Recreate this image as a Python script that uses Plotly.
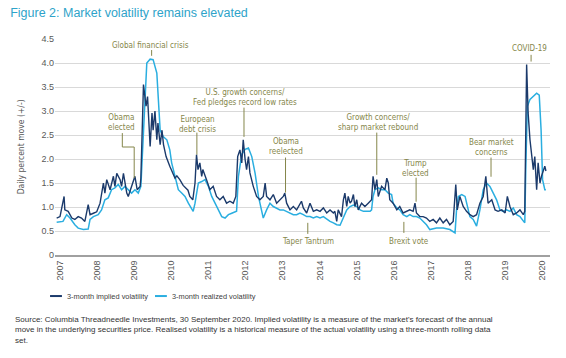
import plotly.graph_objects as go

# ---------------- data (x = position on the year axis as drawn) ----------------
implied_x = [2006.91, 2007.00, 2007.11, 2007.13, 2007.22, 2007.32, 2007.40, 2007.49, 2007.58, 2007.67,
             2007.76, 2007.81, 2007.90, 2007.99, 2008.08, 2008.17, 2008.21, 2008.26, 2008.35, 2008.44,
             2008.48, 2008.53, 2008.62, 2008.66, 2008.71, 2008.80, 2008.84, 2008.93, 2009.02, 2009.08,
             2009.16, 2009.18, 2009.21, 2009.25, 2009.32, 2009.36, 2009.43, 2009.48, 2009.51, 2009.56,
             2009.61, 2009.64, 2009.70, 2009.75, 2009.79, 2009.86, 2009.96, 2010.05, 2010.10, 2010.15,
             2010.23, 2010.32, 2010.40, 2010.45, 2010.50, 2010.58, 2010.64, 2010.68, 2010.72, 2010.77,
             2010.82, 2010.85, 2010.95, 2011.04, 2011.13, 2011.22, 2011.31, 2011.40, 2011.49, 2011.58,
             2011.67, 2011.74, 2011.79, 2011.85, 2011.90, 2011.94, 2011.99, 2012.03, 2012.08, 2012.12,
             2012.21, 2012.30, 2012.39, 2012.48, 2012.53, 2012.57, 2012.66, 2012.75, 2012.84, 2012.93,
             2013.02, 2013.06, 2013.11, 2013.20, 2013.29, 2013.38, 2013.47, 2013.51, 2013.56, 2013.65,
             2013.74, 2013.83, 2013.92, 2014.01, 2014.10, 2014.19, 2014.28, 2014.37, 2014.41, 2014.46,
             2014.50, 2014.59, 2014.64, 2014.68, 2014.73, 2014.77, 2014.82, 2014.86, 2014.91, 2014.95,
             2015.00, 2015.04, 2015.13, 2015.22, 2015.31, 2015.40, 2015.44, 2015.49, 2015.54, 2015.58,
             2015.67, 2015.76, 2015.81, 2015.85, 2015.89, 2015.98, 2016.08, 2016.16, 2016.25, 2016.35,
             2016.43, 2016.52, 2016.57, 2016.61, 2016.70, 2016.79, 2016.88, 2016.97, 2017.06, 2017.15,
             2017.24, 2017.33, 2017.42, 2017.51, 2017.60, 2017.67, 2017.71, 2017.78, 2017.87, 2017.96,
             2018.05, 2018.14, 2018.23, 2018.32, 2018.41, 2018.48, 2018.54, 2018.64, 2018.73, 2018.81,
             2018.91, 2019.00, 2019.06, 2019.13, 2019.22, 2019.31, 2019.40, 2019.49, 2019.53, 2019.58,
             2019.62, 2019.67, 2019.71, 2019.76, 2019.80, 2019.85, 2019.89, 2019.94, 2019.98, 2020.03,
             2020.07, 2020.10]
implied_vol = [0.77, 0.80, 1.22, 0.94, 0.91, 0.77, 0.74, 0.80, 0.77, 0.70,
               1.05, 0.84, 0.87, 0.90, 1.08, 1.50, 1.29, 1.57, 1.36, 1.64,
               1.43, 1.70, 1.57, 1.43, 1.70, 1.29, 1.22, 1.43, 1.64, 1.36,
               1.43, 1.60, 2.40, 3.55, 3.10, 3.30, 2.26, 2.96, 2.60, 3.00,
               2.40, 2.75, 2.30, 2.60, 2.30, 2.05, 1.85, 1.70, 1.60, 1.65,
               1.57, 1.45, 1.40, 1.35, 1.22, 1.15, 1.50, 2.09, 1.78, 1.92,
               1.64, 1.78, 1.57, 1.36, 1.43, 1.22, 1.15, 1.22, 1.08, 1.12,
               1.08, 1.22, 2.05, 2.19, 1.92, 2.40, 1.99, 1.78, 2.05, 1.71,
               1.43, 1.22, 1.15, 1.22, 1.50, 1.22, 1.15, 1.26, 1.08, 1.15,
               1.22, 1.29, 1.08, 0.94, 1.01, 0.94, 1.08, 1.12, 0.98, 0.875,
               1.08, 0.91, 0.94, 0.91, 0.98, 0.875, 0.94, 0.875, 0.91, 0.70,
               0.94, 0.80, 1.15, 1.29, 1.01, 1.22, 1.08, 1.12, 1.26, 1.01,
               1.15, 0.94, 1.08, 1.01, 1.08, 1.15, 1.64, 1.36, 1.57, 1.22,
               1.43, 1.36, 1.60, 1.50, 1.15, 1.08, 0.94, 1.01, 0.875, 0.91,
               0.94, 0.91, 1.08, 0.875, 0.80, 0.80, 0.77, 0.70, 0.74, 0.67,
               0.77, 0.67, 0.74, 0.63, 0.70, 1.47, 0.94, 1.22, 1.01, 0.91,
               0.84, 0.80, 0.84, 1.08, 1.22, 1.64, 1.08, 1.15, 0.94, 0.91,
               0.94, 0.875, 1.22, 1.01, 0.84, 0.875, 0.94, 0.84, 0.91, 3.97,
               2.96, 2.40, 2.12, 1.78, 2.05, 1.36, 1.92, 1.50, 1.64, 1.78,
               1.85, 1.75]

realized_x = [2006.91, 2007.08, 2007.18, 2007.27, 2007.40, 2007.49, 2007.63, 2007.76, 2007.81, 2007.90,
              2008.03, 2008.12, 2008.21, 2008.30, 2008.39, 2008.48, 2008.57, 2008.66, 2008.75, 2008.84,
              2008.93, 2009.02, 2009.11, 2009.18, 2009.25, 2009.34, 2009.43, 2009.51, 2009.61, 2009.65,
              2009.70, 2009.78, 2009.88, 2009.96, 2010.01, 2010.10, 2010.19, 2010.28, 2010.37, 2010.46,
              2010.55, 2010.59, 2010.64, 2010.73, 2010.82, 2010.91, 2011.00, 2011.09, 2011.18, 2011.27,
              2011.36, 2011.45, 2011.54, 2011.63, 2011.72, 2011.76, 2011.81, 2011.90, 2011.99, 2012.08,
              2012.17, 2012.26, 2012.35, 2012.44, 2012.48, 2012.57, 2012.66, 2012.75, 2012.84, 2012.93,
              2013.02, 2013.11, 2013.20, 2013.29, 2013.38, 2013.47, 2013.56, 2013.65, 2013.74, 2013.83,
              2013.92, 2014.01, 2014.10, 2014.19, 2014.28, 2014.37, 2014.46, 2014.55, 2014.64, 2014.73,
              2014.82, 2014.91, 2015.00, 2015.09, 2015.18, 2015.27, 2015.36, 2015.40, 2015.44, 2015.49,
              2015.58, 2015.67, 2015.76, 2015.85, 2015.94, 2015.98, 2016.08, 2016.16, 2016.25, 2016.35,
              2016.43, 2016.52, 2016.61, 2016.70, 2016.79, 2016.88, 2016.97, 2017.15, 2017.33, 2017.51,
              2017.65, 2017.69, 2017.74, 2017.83, 2017.92, 2018.05, 2018.14, 2018.23, 2018.32, 2018.41,
              2018.50, 2018.59, 2018.68, 2018.77, 2018.86, 2018.95, 2019.04, 2019.13, 2019.22, 2019.31,
              2019.40, 2019.53, 2019.56, 2019.60, 2019.67, 2019.76, 2019.85, 2019.92, 2019.97, 2020.01,
              2020.07, 2020.10]
realized_vol = [0.68, 0.70, 0.84, 0.77, 0.63, 0.56, 0.53, 0.54, 0.74, 0.80,
                0.84, 0.94, 1.15, 1.19, 1.36, 1.40, 1.47, 1.36, 1.43, 1.36,
                1.29, 1.36, 1.29, 1.43, 2.60, 4.00, 4.08, 4.07, 3.79, 3.30,
                2.60, 2.47, 2.40, 2.19, 1.92, 1.64, 1.36, 1.29, 1.22, 1.08,
                0.94, 0.91, 1.08, 1.50, 1.53, 1.57, 1.43, 1.22, 1.08, 0.94,
                0.80, 0.77, 0.84, 0.87, 0.91, 0.91, 1.64, 2.10, 2.20, 2.23,
                2.05, 1.70, 1.22, 0.875, 0.77, 0.94, 1.08, 1.01, 0.98, 0.94,
                0.94, 0.91, 0.875, 0.84, 0.84, 0.875, 0.84, 0.80, 0.80, 0.77,
                0.80, 0.77, 0.80, 0.74, 0.70, 0.67, 0.63, 0.62, 0.80, 0.94,
                1.01, 1.04, 1.01, 0.94, 0.91, 0.91, 0.91, 0.94, 1.22, 1.36,
                1.40, 1.36, 1.36, 1.29, 1.26, 1.08, 0.98, 0.94, 0.84, 0.80,
                0.84, 0.80, 0.80, 0.77, 0.70, 0.63, 0.53, 0.56, 0.56, 0.53,
                0.46, 0.94, 1.22, 1.26, 1.22, 0.80, 0.74, 0.60, 0.94, 1.36,
                1.50, 1.43, 1.29, 1.15, 0.94, 0.91, 0.94, 0.91, 0.98, 0.84,
                0.80, 0.67, 1.90, 3.10, 3.24, 3.30, 3.37, 3.33, 2.60, 1.57,
                1.36, 1.36]

series_names = ["3-month implied volatility", "3-month realized volatility"]

year_ticks = [2007, 2008, 2009, 2010, 2011, 2012, 2013, 2014, 2015, 2016, 2017, 2018, 2019, 2020]
year_labels = [str(y) for y in year_ticks]
y_ticks = [0, 0.5, 1.0, 1.5, 2.0, 2.5, 3.0, 3.5, 4.0, 4.5]
y_labels = ["0", "0.5", "1.0", "1.5", "2.0", "2.5", "3.0", "3.5", "4.0", "4.5"]

# events: label, text x, text y, leader x, leader y from, leader y to
events = [
    ("Global financial crisis", 2009.45, 4.36, 2009.47, 4.27, 4.15),
    ("European<br>debt crisis", 2010.71, 2.72, 2010.69, 2.55, 2.09),
    ("U.S. growth concerns/<br>Fed pledges record low rates", 2011.99, 3.29, 2011.96, 3.07, 2.46),
    ("Obama<br>reelected", 2013.09, 2.27, 2013.08, 2.03, 1.30),
    ("Taper Tantrum", 2013.68, 0.29, 2013.68, 0.67, 0.44),
    ("Growth concerns/<br>sharp market rebound", 2015.56, 2.77, 2015.54, 2.55, 1.67),
    ("Trump<br>elected", 2016.58, 1.81, 2016.60, 1.61, 1.11),
    ("Brexit vote", 2016.42, 0.29, 2016.27, 0.69, 0.46),
    ("Bear market<br>concerns", 2018.62, 2.25, 2018.62, 2.03, 1.63),
    ("COVID-19", 2019.67, 4.31, 2019.70, 4.17, 4.03),
]
obama_label = ("Obama<br>elected", 2008.67, 2.77)
obama_path_x = [2008.68, 2008.68, 2009.00, 2009.00]
obama_path_y = [2.54, 2.25, 2.25, 1.60]

DARK = "#1b3a6b"
LIGHT = "#2aaee0"
OLIVE = "#85864a"
ANN_FONT = "DejaVu Sans Condensed, Liberation Sans Narrow, Liberation Sans, sans-serif"
BASE_FONT = "Liberation Sans, Arial, sans-serif"

fig = go.Figure()
fig.add_trace(go.Scatter(x=realized_x, y=realized_vol, mode="lines", name=series_names[1],
                         line=dict(color=LIGHT, width=1.5), showlegend=False))
fig.add_trace(go.Scatter(x=implied_x, y=implied_vol, mode="lines", name=series_names[0],
                         line=dict(color=DARK, width=1.4), showlegend=False))

annotations = []
shapes = []
for label, tx, ty, lx, ly0, ly1 in events:
    annotations.append(dict(x=tx, y=ty, xref="x", yref="y", text=label, showarrow=False,
                            font=dict(family=ANN_FONT, size=8, color=OLIVE), align="center"))
    shapes.append(dict(type="line", xref="x", yref="y", x0=lx, x1=lx, y0=ly0, y1=ly1,
                       line=dict(color=OLIVE, width=1)))
annotations.append(dict(x=obama_label[1], y=obama_label[2], xref="x", yref="y", text=obama_label[0],
                        showarrow=False, font=dict(family=ANN_FONT, size=8, color=OLIVE), align="center"))
for i in range(len(obama_path_x) - 1):
    shapes.append(dict(type="line", xref="x", yref="y", x0=obama_path_x[i], x1=obama_path_x[i + 1],
                       y0=obama_path_y[i], y1=obama_path_y[i + 1], line=dict(color=OLIVE, width=1)))

# manual legend (short line samples as in the reference)
legend_items = [(series_names[0], DARK, -0.010, 0.014), (series_names[1], LIGHT, 0.202, 0.226)]
for name, color, x0, x1 in legend_items:
    shapes.append(dict(type="line", xref="paper", yref="paper", x0=x0, x1=x1, y0=-0.19, y1=-0.19,
                       line=dict(color=color, width=2)))
    annotations.append(dict(xref="paper", yref="paper", x=x1 + 0.006, y=-0.19, xanchor="left",
                            yanchor="middle", text=name, showarrow=False,
                            font=dict(family=BASE_FONT, size=7.4, color="#404040")))

annotations.append(dict(
    xref="paper", yref="paper", x=-0.085, y=-0.27, xanchor="left", yanchor="top", align="left",
    showarrow=False,
    text=("Source: Columbia Threadneedle Investments, 30 September 2020. Implied volatility is a measure of the market's forecast of the annual<br>"
          "move in the underlying securities price. Realised volatility is a historical measure of the actual volatility using a three-month rolling data<br>"
          "set."),
    font=dict(family=BASE_FONT, size=8, color="#333333")))
annotations.append(dict(
    xref="paper", yref="paper", x=-0.068, y=0.5, xanchor="center", yanchor="middle", textangle=-90,
    showarrow=False, text="Daily percent move (+/-)",
    font=dict(family=ANN_FONT, size=8.5, color="#555555")))

fig.update_layout(
    width=566, height=358, autosize=False,
    margin=dict(l=55, r=16, t=39, b=103),
    paper_bgcolor="white", plot_bgcolor="white",
    title=dict(text="Figure 2: Market volatility remains elevated", x=0.018, xanchor="left",
               y=0.966, yanchor="middle", yref="container",
               font=dict(family=BASE_FONT, size=12.5, color="#2ea3c9")),
    xaxis=dict(range=[2006.865, 2020.21], tickvals=year_ticks, ticktext=year_labels, tickangle=-90,
               showgrid=False, zeroline=False, showline=True, linecolor="#a0a0a0", linewidth=2,
               ticks="", tickfont=dict(family=BASE_FONT, size=9, color="#595959")),
    yaxis=dict(range=[0, 4.5], tickvals=y_ticks, ticktext=y_labels, showgrid=True, gridcolor="#d9d9d9",
               gridwidth=1, zeroline=False, showline=False, ticks="",
               tickfont=dict(family=BASE_FONT, size=9, color="#595959")),
    showlegend=False,
    annotations=annotations,
    shapes=shapes,
)

# remove the default 8px page margin so the 566x358 figure fills the window exactly
fig.write_html("out.html", config={"displayModeBar": False},
               post_script="document.body.style.margin='0px';")
